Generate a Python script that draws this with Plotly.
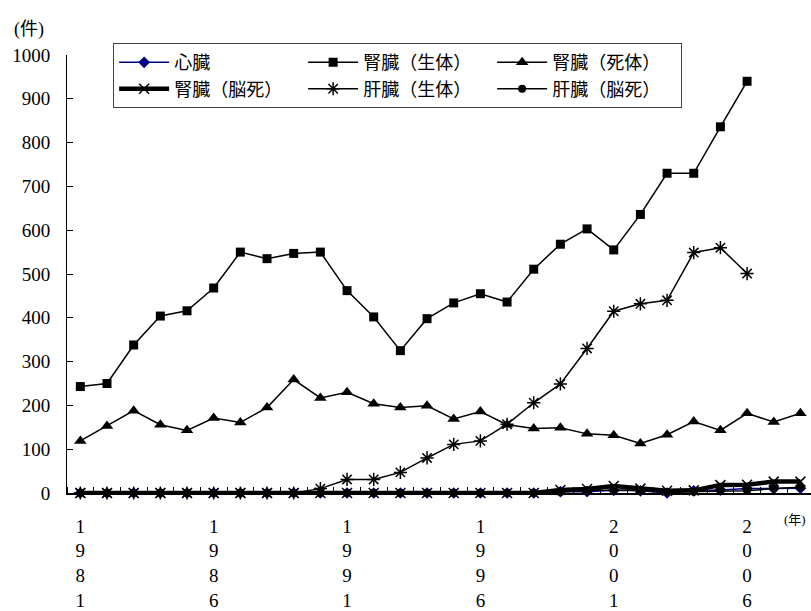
import plotly.graph_objects as go

# Transplant counts per year, 1981-2008
years = list(range(1981, 2009))

heart = [0] * 18 + [3, 3, 6, 5, 0, 5, 7, 10, 10, 11]
kidney_living = [243, 250, 338, 404, 416, 468, 550, 535, 547, 550, 462, 402, 325,
                 398, 434, 455, 436, 511, 568, 603, 555, 636, 730, 730, 836, 940]
kidney_deceased = [119, 153, 188, 156, 143, 171, 161, 195, 259, 217, 230, 204, 195,
                   199, 169, 186, 156, 147, 149, 135, 132, 113, 133, 163, 143, 182,
                   162, 182]
kidney_brain_dead = [0] * 18 + [7, 9, 16, 10, 5, 6, 18, 19, 26, 26]
liver_living = [0, 0, 0, 0, 0, 0, 0, 0, 0, 10, 31, 31, 47, 80, 111, 119, 157, 206,
                249, 330, 415, 432, 440, 549, 560, 501]
liver_brain_dead = [0] * 18 + [2, 6, 6, 7, 2, 3, 4, 5, 10, 13]

label_years = [1981, 1986, 1991, 1996, 2001, 2006]
y_ticks = list(range(0, 1001, 100))

FONT = "Liberation Serif, Noto Sans CJK JP, serif"
BLACK = "#000000"
NAVY = "#000080"

fig = go.Figure()

def add(name, y, color, width, symbol, size, legend=True, mline=None):
    fig.add_trace(go.Scatter(
        x=years[:len(y)], y=y, name=name, mode="lines+markers",
        line=dict(color=color, width=width),
        marker=dict(symbol=symbol, size=size, color=color,
                    line=dict(color=color, width=mline if mline else 0)),
        cliponaxis=False, showlegend=legend,
    ))

add("心臓", heart, NAVY, 1.5, "diamond", 9)
add("腎臓（生体）", kidney_living, BLACK, 1.5, "square", 9)
add("腎臓（死体）", kidney_deceased, BLACK, 1.5, "triangle-up", 11)
add("腎臓（脳死）", kidney_brain_dead, BLACK, 4.5, "x-thin-open", 10, mline=1.5)
add("肝臓（生体）", liver_living, BLACK, 1.5, "asterisk-open", 11, mline=1.5)
add("肝臓（脳死）", liver_brain_dead, BLACK, 1.5, "circle", 8)

fig.update_layout(
    width=811, height=611,
    margin=dict(l=67, r=0, t=55, b=113),
    paper_bgcolor="white", plot_bgcolor="white",
    font=dict(family=FONT, size=19, color=BLACK),
    showlegend=True,
    legend=dict(
        orientation="h", x=0.062, y=1.027, xanchor="left", yanchor="top",
        bgcolor="white", bordercolor="#404040", borderwidth=1,
        font=dict(family=FONT, size=18, color=BLACK),
        entrywidth=124, entrywidthmode="pixels",
        itemwidth=50, itemsizing="trace", tracegroupgap=0,
    ),
    annotations=[
        dict(text="(件)", x=-0.051, y=1.0587, xref="paper", yref="paper",
             showarrow=False, xanchor="center", yanchor="middle",
             font=dict(family=FONT, size=18, color=BLACK)),
        dict(text="(年)", x=0.978, y=-0.06, xref="paper", yref="paper",
             showarrow=False, xanchor="center", yanchor="middle",
             font=dict(family=FONT, size=13, color=BLACK)),
    ],
)

fig.update_xaxes(
    range=[years[0] - 0.5, years[0] - 0.5 + 744 / 26.67],
    showgrid=False, zeroline=False,
    showline=True, linecolor=BLACK, linewidth=1.5,
    ticks="", tickvals=label_years,
    ticktext=["<br>".join(str(v)) for v in label_years],
    tickfont=dict(family=FONT, size=19, color=BLACK),
    ticklabelstandoff=15,
    minor=dict(tickvals=[v - 0.5 for v in years] + [years[-1] + 0.5],
               ticks="inside", ticklen=6, tickcolor=BLACK, tickwidth=1),
)
fig.update_yaxes(
    range=[0, 1000], showgrid=False, zeroline=False,
    showline=True, linecolor=BLACK, linewidth=1,
    ticks="inside", ticklen=6, tickcolor=BLACK, tickwidth=1,
    tickvals=y_ticks, ticktext=[str(v) for v in y_ticks],
    tickfont=dict(family=FONT, size=19, color=BLACK),
    ticklabelstandoff=12,
)

fig.write_html("out.html")
